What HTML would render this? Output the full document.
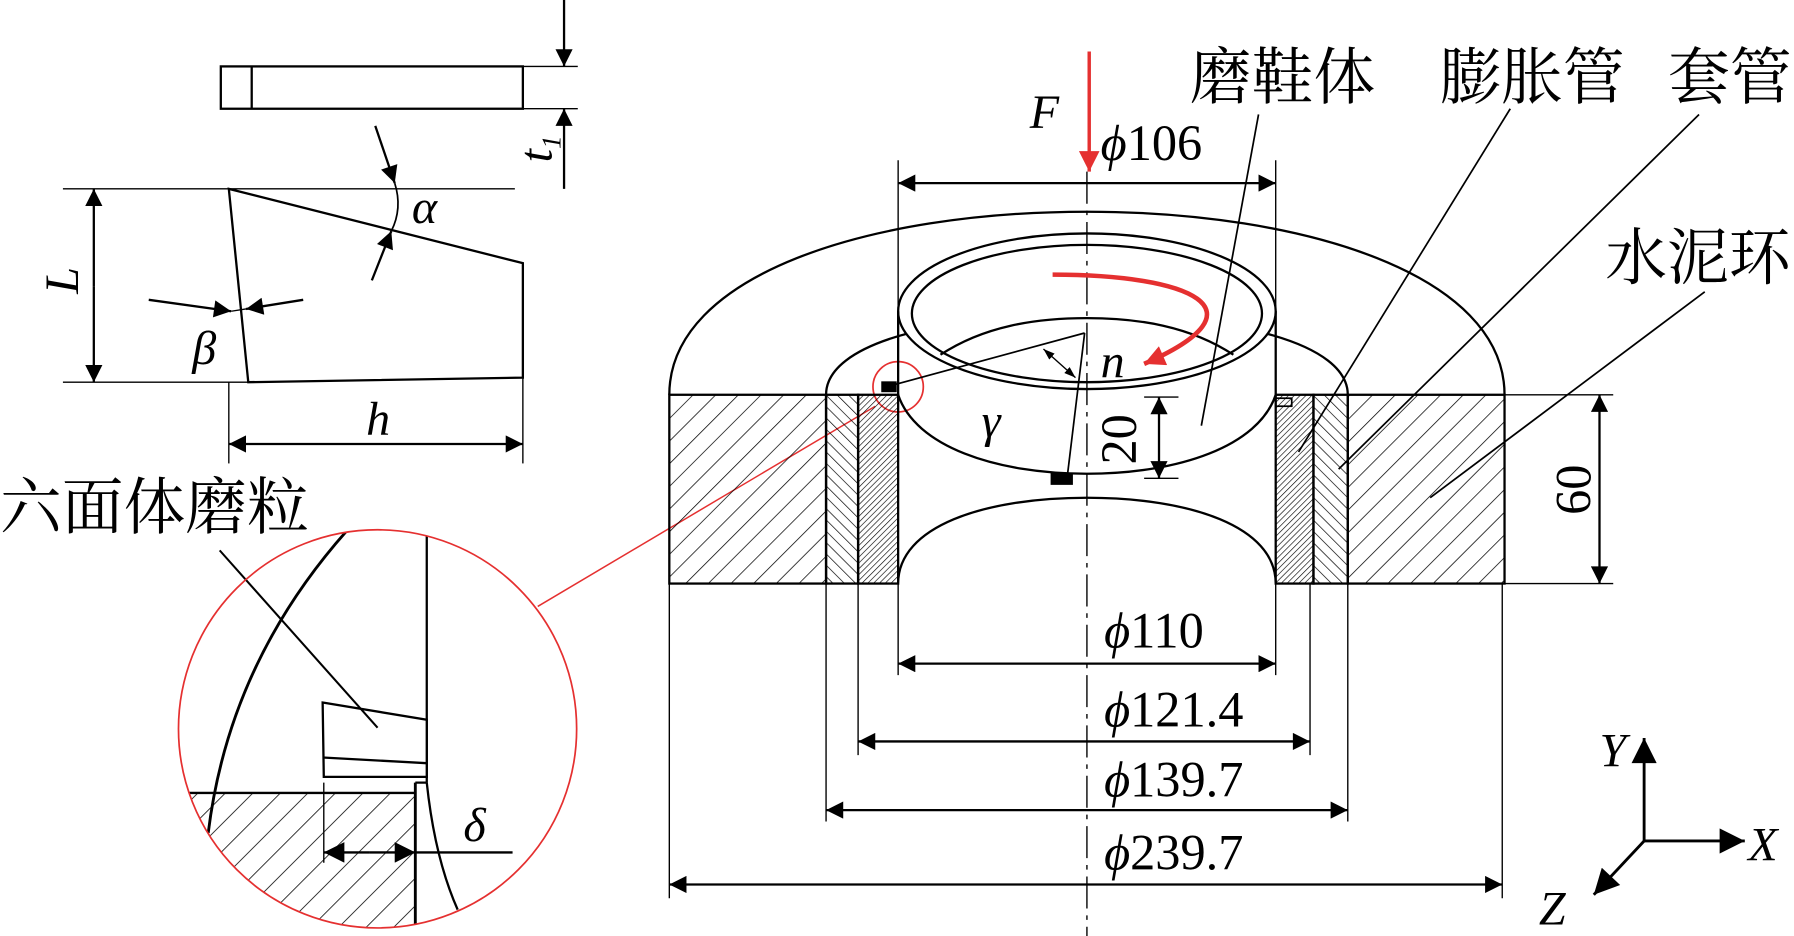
<!DOCTYPE html>
<html><head><meta charset="utf-8"><style>
html,body{margin:0;padding:0;background:#fff;}
svg{display:block}
text{font-family:"Liberation Serif","Noto Serif CJK SC",serif;fill:#000}
.cn{font-family:"Liberation Serif","Noto Serif CJK SC",serif;font-size:54px}
.it{font-style:italic;font-size:42px}
.num{font-size:44px}
</style></head><body>
<svg width="1794" height="936" viewBox="0 0 1568 818" xmlns="http://www.w3.org/2000/svg">
<defs>
<marker id="a" viewBox="0 0 10 10" refX="10" refY="5" markerWidth="10" markerHeight="10" markerUnits="userSpaceOnUse" orient="auto-start-reverse"><path d="M0,1.5 L10,5 L0,8.5z" fill="#000"/></marker>
<marker id="b" viewBox="0 0 10 10" refX="10" refY="5" markerWidth="26" markerHeight="15" markerUnits="userSpaceOnUse" orient="auto-start-reverse"><path d="M0,0 L10,5 L0,10z" fill="#000"/></marker>
<marker id="c" viewBox="0 0 10 10" refX="10" refY="5" markerWidth="32" markerHeight="22" markerUnits="userSpaceOnUse" orient="auto-start-reverse"><path d="M0,0 L10,5 L0,10z" fill="#000"/></marker>
<marker id="d" viewBox="0 0 10 10" refX="10" refY="5" markerWidth="32" markerHeight="18" markerUnits="userSpaceOnUse" orient="auto-start-reverse"><path d="M0,0 L10,5 L0,10z" fill="#000"/></marker>
<marker id="r" viewBox="0 0 10 10" refX="10" refY="5" markerWidth="24" markerHeight="18" markerUnits="userSpaceOnUse" orient="auto"><path d="M0,0 L10,5 L0,10z" fill="#e53030"/></marker>
<pattern id="h1" width="14" height="14" patternUnits="userSpaceOnUse" patternTransform="rotate(45)"><line x1="0" y1="0" x2="0" y2="14" stroke="#000" stroke-width="1.3"/></pattern>
<pattern id="h4" width="17" height="17" patternUnits="userSpaceOnUse" patternTransform="rotate(45)"><line x1="0" y1="0" x2="0" y2="17" stroke="#000" stroke-width="1.4"/></pattern>
<pattern id="h2" width="7" height="7" patternUnits="userSpaceOnUse" patternTransform="rotate(-45)"><line x1="0" y1="0" x2="0" y2="7" stroke="#000" stroke-width="1.2"/></pattern>
<pattern id="h3" width="3.6" height="3.6" patternUnits="userSpaceOnUse" patternTransform="rotate(45)"><line x1="0" y1="0" x2="0" y2="3.6" stroke="#000" stroke-width="1.1"/></pattern>
<clipPath id="cc"><circle cx="330" cy="637" r="174"/></clipPath>
</defs>
<g fill="none" stroke="#000" stroke-width="2">
<!-- plate -->
<rect x="193" y="58" width="264" height="37"/>
<line x1="220" y1="58" x2="220" y2="95"/>
<line x1="457" y1="58" x2="505" y2="58" stroke-width="1.2"/>
<line x1="457" y1="95" x2="505" y2="95" stroke-width="1.2"/>
<line x1="493" y1="0" x2="493" y2="58" marker-end="url(#b)"/>
<line x1="493" y1="165" x2="493" y2="95" marker-end="url(#b)"/>
<!-- wedge -->
<polygon points="200,165 457,230 457,330 217,334"/>
<line x1="55" y1="165" x2="450" y2="165" stroke-width="1.2"/>
<line x1="55" y1="334" x2="217" y2="334" stroke-width="1.2"/>
<line x1="82" y1="250" x2="82" y2="165" marker-end="url(#b)"/>
<line x1="82" y1="250" x2="82" y2="334" marker-end="url(#b)"/>
<line x1="130" y1="262" x2="202" y2="272" marker-end="url(#b)"/>
<line x1="265" y1="262" x2="215" y2="270" marker-end="url(#b)"/>
<line x1="202" y1="272" x2="215" y2="270" stroke-width="1.2"/>
<line x1="328" y1="110" x2="345" y2="160" marker-end="url(#b)"/>
<line x1="325" y1="245" x2="342" y2="202" marker-end="url(#b)"/>
<path d="M345,160 Q352,182 342,202" stroke-width="1.5"/>
<line x1="200" y1="334" x2="200" y2="405" stroke-width="1.2"/>
<line x1="457" y1="330" x2="457" y2="405" stroke-width="1.2"/>
<line x1="200" y1="388" x2="457" y2="388" marker-start="url(#b)" marker-end="url(#b)"/>
<!-- magnifier -->
<line x1="470" y1="530" x2="765" y2="355" stroke="#e53030" stroke-width="1.3"/>
<circle cx="785" cy="338" r="22" stroke="#e53030" stroke-width="1.5"/>
<g clip-path="url(#cc)">
<rect x="164" y="693" width="199" height="130" fill="url(#h4)" stroke="none"/>
<line x1="140" y1="693" x2="363" y2="693"/>
<line x1="373" y1="440" x2="373" y2="684"/>
<line x1="363" y1="684" x2="363" y2="830" stroke-width="2.5"/>
<line x1="363" y1="684" x2="373" y2="684"/>
<line x1="283" y1="684" x2="283" y2="754" stroke-width="1.2"/>
<path d="M303,464 Q200,580 182,728" stroke-width="2.5"/>
<path d="M373,684 Q380,750 400,795" stroke-width="2"/>
<polygon points="282,614 373,629 373,679 283,679" fill="#fff"/>
<line x1="282" y1="662" x2="373" y2="667"/>
<line x1="363" y1="745" x2="448" y2="745"/>
<line x1="323" y1="745" x2="283" y2="745" marker-end="url(#d)"/>
<line x1="323" y1="745" x2="363" y2="745" marker-end="url(#d)"/>
</g>
<line x1="192" y1="481" x2="330" y2="636" stroke-width="1.8"/>
<circle cx="330" cy="637" r="174" stroke="#e53030" stroke-width="1.5"/>
<!-- main body -->
<path d="M585,345 C585,240 760,185 950,185 C1140,185 1315,240 1315,345"/>
<rect x="585" y="345" width="137" height="165" fill="url(#h1)"/>
<rect x="722" y="345" width="28" height="165" fill="url(#h2)"/>
<rect x="750" y="345" width="35" height="165" fill="url(#h3)"/>
<rect x="1178" y="345" width="137" height="165" fill="url(#h1)"/>
<rect x="1148" y="345" width="30" height="165" fill="url(#h2)"/>
<rect x="1115" y="345" width="33" height="165" fill="url(#h3)"/>
<path d="M785,510 C785,460 860,435 950,435 C1040,435 1115,460 1115,510" fill="#fff"/>
<path d="M722,345 C722,300 820,275 950,275 C1080,275 1178,300 1178,345"/>
<ellipse cx="950" cy="272" rx="165" ry="68" fill="#fff"/>
<ellipse cx="950" cy="274" rx="153" ry="60"/>
<path d="M822,310 C860,285 905,278 950,278 C995,278 1040,285 1078,310"/>
<line x1="785" y1="272" x2="785" y2="345"/>
<line x1="1115" y1="272" x2="1115" y2="345"/>
<path d="M785,345 C800,390 870,414 950,414 C1030,414 1100,390 1115,345"/>
<rect x="771" y="334" width="12" height="8" stroke-width="1.5" fill="#000"/>
<rect x="1115" y="348" width="14" height="7" stroke-width="1.5"/>
<rect x="919" y="414" width="18" height="9" stroke-width="1.5" fill="#000"/>
<line x1="775" y1="338" x2="948" y2="291" stroke-width="1.5"/>
<line x1="948" y1="291" x2="933" y2="415" stroke-width="1.5"/>
<line x1="912" y1="305" x2="940" y2="330" stroke-width="1.2" marker-start="url(#a)" marker-end="url(#a)"/>
<line x1="950" y1="150" x2="950" y2="818" stroke-width="1.2" stroke-dasharray="28,6,4,6"/>
<!-- dims -->
<g stroke-width="1.2">
<line x1="785" y1="140" x2="785" y2="590"/><line x1="1115" y1="140" x2="1115" y2="590"/>
<line x1="750" y1="510" x2="750" y2="660"/><line x1="1145" y1="510" x2="1145" y2="660"/>
<line x1="722" y1="510" x2="722" y2="718"/><line x1="1178" y1="510" x2="1178" y2="718"/>
<line x1="585" y1="510" x2="585" y2="785"/><line x1="1313" y1="510" x2="1313" y2="785"/>
<line x1="1315" y1="345" x2="1410" y2="345"/><line x1="1315" y1="510" x2="1410" y2="510"/>
<line x1="1000" y1="347" x2="1030" y2="347"/><line x1="1000" y1="418" x2="1030" y2="418"/>
</g>
<line x1="785" y1="160" x2="1115" y2="160" marker-start="url(#b)" marker-end="url(#b)"/>
<line x1="785" y1="580" x2="1115" y2="580" marker-start="url(#b)" marker-end="url(#b)"/>
<line x1="750" y1="648" x2="1145" y2="648" marker-start="url(#b)" marker-end="url(#b)"/>
<line x1="722" y1="708" x2="1178" y2="708" marker-start="url(#b)" marker-end="url(#b)"/>
<line x1="585" y1="773" x2="1313" y2="773" marker-start="url(#b)" marker-end="url(#b)"/>
<line x1="1398" y1="345" x2="1398" y2="510" marker-start="url(#b)" marker-end="url(#b)"/>
<line x1="1013" y1="347" x2="1013" y2="418" marker-start="url(#b)" marker-end="url(#b)"/>
<!-- leaders -->
<g stroke-width="1.5">
<line x1="1100" y1="100" x2="1050" y2="372"/>
<line x1="1320" y1="95" x2="1135" y2="395"/>
<line x1="1485" y1="100" x2="1170" y2="410"/>
<line x1="1490" y1="255" x2="1250" y2="435"/>
</g>
<!-- axes -->
<line x1="1437" y1="735" x2="1437" y2="645" marker-end="url(#c)" stroke-width="2.5"/>
<line x1="1437" y1="735" x2="1525" y2="735" marker-end="url(#c)" stroke-width="2.5"/>
<line x1="1437" y1="735" x2="1393" y2="782" marker-end="url(#c)" stroke-width="2.5"/>
<!-- red -->
<line x1="952" y1="45" x2="952" y2="150" stroke="#e53030" stroke-width="3" marker-end="url(#r)"/>
<path d="M920,240 C1040,240 1110,270 1000,318" stroke="#e53030" stroke-width="4" marker-end="url(#r)"/>
</g>
<text class="it" text-anchor="middle" transform="translate(482,130) rotate(-90)">t<tspan font-size="24" dy="8">1</tspan></text>
<text class="it" text-anchor="middle" transform="translate(68,245) rotate(-90)">L</text>
<text x="168" y="318" class="it">β</text>
<text x="360" y="195" class="it">α</text>
<text x="320" y="380" class="it">h</text>
<text x="0" y="462" class="cn">六面体磨粒</text>
<text x="405" y="735" class="it">δ</text>
<text x="900" y="112" class="it">F</text>
<text x="962" y="140" class="num"><tspan font-style="italic">ϕ</tspan>106</text>
<text x="1040" y="86" class="cn">磨鞋体</text>
<text x="1258" y="86" class="cn">膨胀管</text>
<text x="1458" y="86" class="cn">套管</text>
<text x="1403" y="244" class="cn">水泥环</text>
<text x="962" y="330" class="it">n</text>
<text x="858" y="382" class="it">γ</text>
<text class="num" text-anchor="middle" transform="translate(993,384) rotate(-90)">20</text>
<text class="num" text-anchor="middle" transform="translate(1390,428) rotate(-90)">60</text>
<text x="965" y="566" class="num"><tspan font-style="italic">ϕ</tspan>110</text>
<text x="965" y="635" class="num"><tspan font-style="italic">ϕ</tspan>121.4</text>
<text x="965" y="696" class="num"><tspan font-style="italic">ϕ</tspan>139.7</text>
<text x="965" y="760" class="num"><tspan font-style="italic">ϕ</tspan>239.7</text>
<text x="1398" y="670" class="it">Y</text>
<text x="1528" y="752" class="it">X</text>
<text x="1345" y="808" class="it">Z</text>
</svg>
</body></html>
